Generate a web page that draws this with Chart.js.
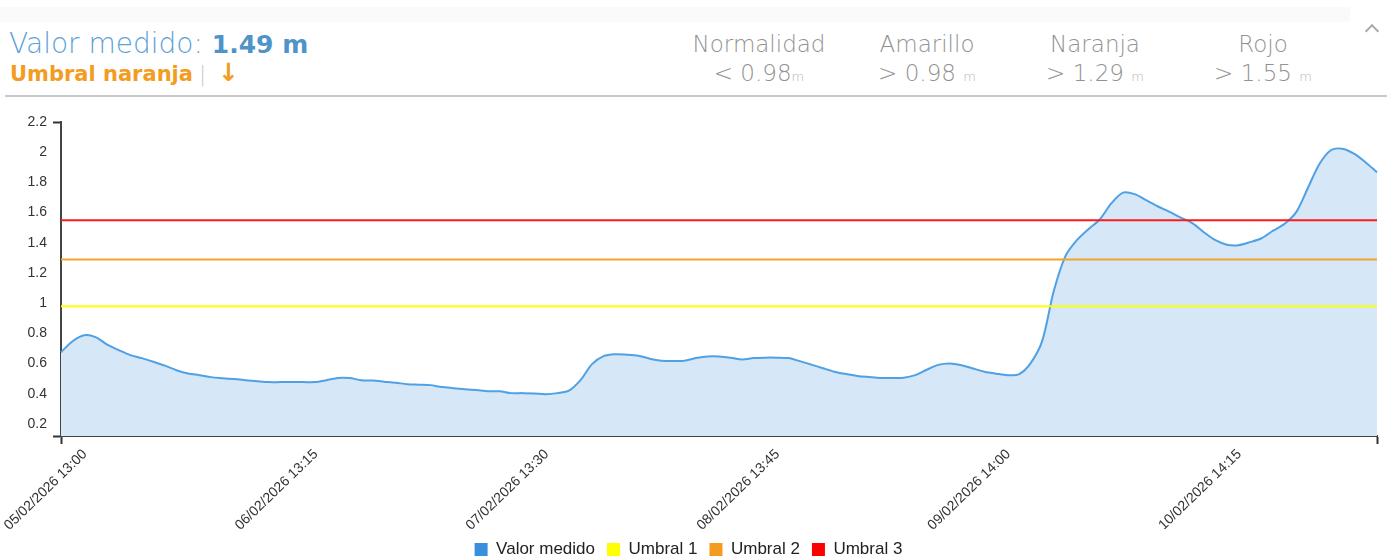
<!DOCTYPE html>
<html lang="es">
<head>
<meta charset="utf-8">
<title>Valor medido</title>
<script src="https://cdn.jsdelivr.net/npm/chart.js@4"></script>
<style>
  html, body { margin: 0; padding: 0; background: #fff; }
  body { width: 1392px; height: 557px; position: relative; overflow: hidden; font-family: "DejaVu Sans", sans-serif; }
  .franja { position: absolute; left: 0; top: 7px; width: 1350px; height: 15px; background: #fafafa; }
  .titulo { position: absolute; left: 9px; top: 27px; font-size: 28px; font-weight: 200; color: #5ca2d8; white-space: nowrap; }
  .titulo b { font-weight: 700; font-size: 25px; color: #4f94c8; }
  .estado { position: absolute; left: 10px; top: 58px; font-size: 21px; font-weight: 700; color: #f39c1f; white-space: nowrap; }
  .estado .sep { color: #c9c9c9; font-weight: 200; margin: 0 12px 0 6px; }
  .estado .abajo { font-size: 25px; }
  .umbral { position: absolute; top: 30px; width: 180px; text-align: center; color: #929292; font-size: 23px; font-weight: 200; line-height: 29px; white-space: nowrap; }
  .umbral small { font-size: 13px; color: #b3b3b3; }
  .flecha { position: absolute; left: 1367px; top: 26px; width: 8px; height: 8px; border-top: 2px solid #aaa; border-left: 2px solid #aaa; transform: rotate(45deg); }
  .linea { position: absolute; left: 5px; top: 95px; width: 1382px; height: 2px; background: #c8c8c8; }
  #contenedor { position: absolute; left: 0; top: 100px; width: 1392px; height: 468px; }
</style>
</head>
<body>
<div class="franja"></div>
<div class="titulo">Valor medido: <b>1.49 m</b></div>
<div class="estado">Umbral naranja<span class="sep">|</span><span class="abajo">&#8595;</span></div>
<div class="umbral" style="left:669px">Normalidad<br>&lt; 0.98<small>m</small></div>
<div class="umbral" style="left:837px">Amarillo<br>&gt; 0.98 <small>m</small></div>
<div class="umbral" style="left:1005px">Naranja<br>&gt; 1.29 <small>m</small></div>
<div class="umbral" style="left:1173px">Rojo<br>&gt; 1.55 <small>m</small></div>
<div class="flecha"></div>
<div class="linea"></div>
<div id="contenedor"><canvas id="grafico"></canvas></div>

<script>
// Etiquetas del eje X (una cada 20 lecturas)
const etiquetasX = ['05/02/2026 13:00', '06/02/2026 13:15', '07/02/2026 13:30', '08/02/2026 13:45', '09/02/2026 14:00', '10/02/2026 14:15'];
const lecturasPorEtiqueta = 20;

// Nivel medido (m)
const valorMedido = [
  0.675, 0.748, 0.788, 0.775, 0.725, 0.689, 0.656, 0.636, 0.612, 0.586,
  0.556, 0.534, 0.523, 0.510, 0.503, 0.497, 0.490, 0.483, 0.477, 0.477,
  0.477, 0.477, 0.477, 0.490, 0.505, 0.504, 0.490, 0.487, 0.480, 0.473,
  0.463, 0.460, 0.457, 0.444, 0.437, 0.430, 0.424, 0.417, 0.416, 0.404,
  0.404, 0.402, 0.397, 0.404, 0.420, 0.490, 0.596, 0.649, 0.662, 0.659,
  0.652, 0.632, 0.619, 0.616, 0.619, 0.636, 0.647, 0.647, 0.639, 0.626,
  0.636, 0.639, 0.639, 0.636, 0.616, 0.593, 0.569, 0.546, 0.530, 0.518,
  0.511, 0.505, 0.505, 0.506, 0.523, 0.559, 0.591, 0.601, 0.589, 0.567,
  0.546, 0.533, 0.523, 0.530, 0.603, 0.750, 1.080, 1.310, 1.417, 1.490,
  1.556, 1.662, 1.732, 1.722, 1.682, 1.642, 1.606, 1.567, 1.530, 1.470,
  1.417, 1.387, 1.384, 1.404, 1.430, 1.480, 1.526, 1.603, 1.761, 1.920,
  2.013, 2.023, 1.990, 1.934, 1.867
];

// Umbrales (m)
const umbrales = [0.98, 1.29, 1.55];
const nombresSeries = ['Valor medido', 'Umbral 1', 'Umbral 2', 'Umbral 3'];

// Eje Y
const yMin = 0.12;
const yMax = 2.2;
const ticksY = [0.2, 0.4, 0.6, 0.8, 1, 1.2, 1.4, 1.6, 1.8, 2, 2.2];

const coloresLinea = ['#4fa0e4', '#ffff00', '#f5a22d', '#ff1a1a'];
const coloresLeyenda = ['#3a8ee0', '#ffff00', '#f39c1f', '#ff0000'];

const etiquetas = valorMedido.map((v, i) => i % lecturasPorEtiqueta === 0 ? etiquetasX[i / lecturasPorEtiqueta] : '');
const ultimo = valorMedido.length - 1;

const datasets = [{
  label: nombresSeries[0],
  data: valorMedido,
  borderColor: coloresLinea[0],
  backgroundColor: '#d6e8f7',
  borderWidth: 2,
  pointRadius: 0,
  tension: 0.3,
  fill: 'start',
  order: 1
}];
umbrales.forEach((u, k) => {
  datasets.push({
    label: nombresSeries[k + 1],
    data: valorMedido.map(() => u),
    borderColor: coloresLinea[k + 1],
    backgroundColor: coloresLinea[k + 1],
    borderWidth: 2,
    pointRadius: 0,
    fill: false,
    order: 0
  });
});

const fuenteEjes = { family: '"Liberation Sans", Arial, sans-serif', size: 14 };

new Chart(document.getElementById('grafico'), {
  type: 'line',
  data: { labels: etiquetas, datasets: datasets },
  options: {
    responsive: true,
    maintainAspectRatio: false,
    animation: false,
    layout: { padding: { top: 22, right: 15, left: 0, bottom: 0 } },
    plugins: {
      tooltip: { enabled: false },
      legend: {
        position: 'bottom',
        labels: {
          boxWidth: 13,
          boxHeight: 13,
          padding: 12,
          color: '#222',
          font: { family: '"Liberation Sans", Arial, sans-serif', size: 17 },
          generateLabels: (chart) => chart.data.datasets.map((ds, i) => ({
            text: ds.label,
            fillStyle: coloresLeyenda[i],
            strokeStyle: coloresLeyenda[i],
            lineWidth: 0,
            hidden: false,
            datasetIndex: i,
            fontColor: '#222'
          }))
        }
      }
    },
    scales: {
      x: {
        type: 'category',
        border: { display: true, color: '#444', width: 2 },
        grid: {
          drawOnChartArea: false,
          drawTicks: true,
          tickLength: 8,
          tickWidth: 2,
          color: (ctx) => (ctx.index === 0 || ctx.index === ultimo) ? '#333' : 'rgba(0,0,0,0)'
        },
        afterFit: (scale) => {
          scale.height = 93;
          scale.paddingLeft = 0;
          scale.paddingRight = 0;
        },
        ticks: {
          autoSkip: false,
          maxRotation: 44,
          minRotation: 44,
          labelOffset: 24,
          padding: 2,
          color: '#333',
          font: fuenteEjes,
          callback: function (value) { return this.getLabelForValue(value); }
        }
      },
      y: {
        min: yMin,
        max: yMax,
        border: { display: true, color: '#444', width: 2 },
        grid: {
          drawOnChartArea: false,
          drawTicks: true,
          tickLength: 8,
          tickWidth: 2,
          color: (ctx) => (ctx.index === 0 || ctx.index === ticksY.length) ? '#333' : 'rgba(0,0,0,0)'
        },
        afterBuildTicks: (scale) => {
          scale.ticks = [yMin].concat(ticksY).map(v => ({ value: v }));
        },
        afterFit: (scale) => { scale.width = 61; },
        ticks: {
          padding: 6,
          color: '#333',
          font: fuenteEjes,
          callback: (value) => value === yMin ? '' : value
        }
      }
    }
  }
});
</script>
</body>
</html>
